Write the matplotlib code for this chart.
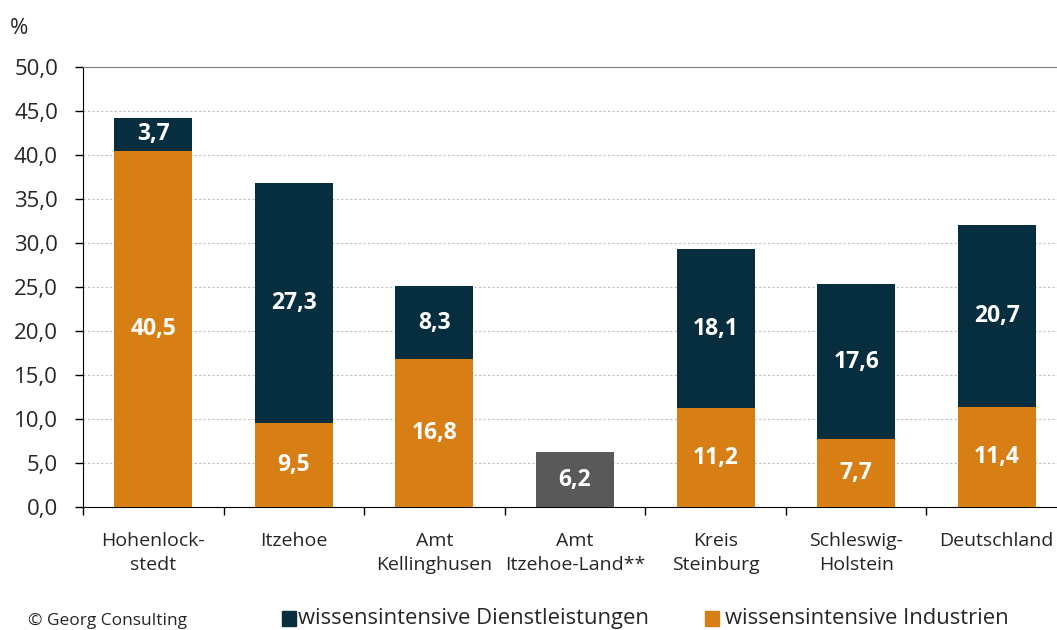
import numpy as np
import matplotlib.pyplot as plt

categories = ["Hohenlock-\nstedt", "Itzehoe", "Amt\nKellinghusen", "Amt\nItzehoe-Land**",
              "Kreis\nSteinburg", "Schleswig-\nHolstein", "Deutschland"]
industrien = [40.5, 9.5, 16.8, None, 11.2, 7.7, 11.4]
dienstleistungen = [3.7, 27.3, 8.3, None, 18.1, 17.6, 20.7]
gesamt_only = [None, None, None, 6.2, None, None, None]

ORANGE = "#D77F14"
NAVY = "#072E3F"
GRAY = "#595959"
TEXT = "#262626"

plt.rcParams["font.family"] = ["Open Sans", "DejaVu Sans"]

fig = plt.figure(figsize=(10.57, 6.30), dpi=100)
# the plot area runs a little past the right edge of the picture
ax = fig.add_axes([83 / 1057, 1 - 507 / 630, (1067 - 83) / 1057, 440 / 630])

x = np.arange(len(categories))
width = 0.555
label_kw = dict(ha="center", va="center", color="white", fontsize=16.5,
                fontweight="bold", zorder=4)


def fmt(v):
    return f"{v:.1f}".replace(".", ",")


for i in x:
    if gesamt_only[i] is not None:
        ax.bar(i, gesamt_only[i], width, color=GRAY, zorder=3)
        ax.text(i, gesamt_only[i] / 2, fmt(gesamt_only[i]), **label_kw)
        continue
    ind = industrien[i]
    dl = dienstleistungen[i]
    ax.bar(i, ind, width, color=ORANGE, zorder=3)
    ax.bar(i, dl, width, bottom=ind, color=NAVY, zorder=3)
    ax.text(i, ind / 2, fmt(ind), **label_kw)
    ax.text(i, ind + dl / 2, fmt(dl), **label_kw)

ax.set_xlim(-0.5, len(categories) - 0.5)
ax.set_ylim(0, 50)
yt = np.arange(0, 50.1, 5)
ax.set_yticks(yt)
ax.set_yticklabels([fmt(v) for v in yt], fontsize=16, color=TEXT)
ax.set_xticks(x)
ax.set_xticklabels(categories, fontsize=14, color=TEXT, linespacing=1.45)
ax.tick_params(axis="x", length=0, pad=18)
ax.set_xticks(np.arange(-0.5, len(categories) - 0.5, 1), minor=True)
ax.tick_params(axis="x", which="minor", length=6, color="black", width=1)
ax.tick_params(axis="y", length=6, color="black", width=1, pad=12)

ax.grid(axis="y", linestyle=(0, (2, 2)), color="#BFBFBF", linewidth=0.8, zorder=0)
ax.spines["right"].set_visible(False)
ax.spines["top"].set_color("#7F7F7F")
ax.spines["left"].set_color("black")
ax.spines["bottom"].set_color("black")

fig.text(10 / 1057, 1 - 28 / 630, "%", fontsize=16, color=TEXT, va="center")
fig.text(28 / 1057, 1 - 625 / 630, "© Georg Consulting", fontsize=12.5, color=TEXT, va="baseline")

# legend drawn by hand at the bottom, baseline kept inside the picture
leg_base = 1 - 624 / 630
fig.patches.append(plt.Rectangle((282 / 1057, 1 - 626 / 630), 14 / 1057, 15 / 630,
                                 transform=fig.transFigure, color=NAVY))
fig.text(298 / 1057, leg_base, "wissensintensive Dienstleistungen", fontsize=15.8, color=TEXT, va="baseline")
fig.patches.append(plt.Rectangle((705 / 1057, 1 - 626 / 630), 14 / 1057, 15 / 630,
                                 transform=fig.transFigure, color=ORANGE))
fig.text(725 / 1057, leg_base, "wissensintensive Industrien", fontsize=15.8, color=TEXT, va="baseline")

fig.savefig("out.png", dpi=100)
